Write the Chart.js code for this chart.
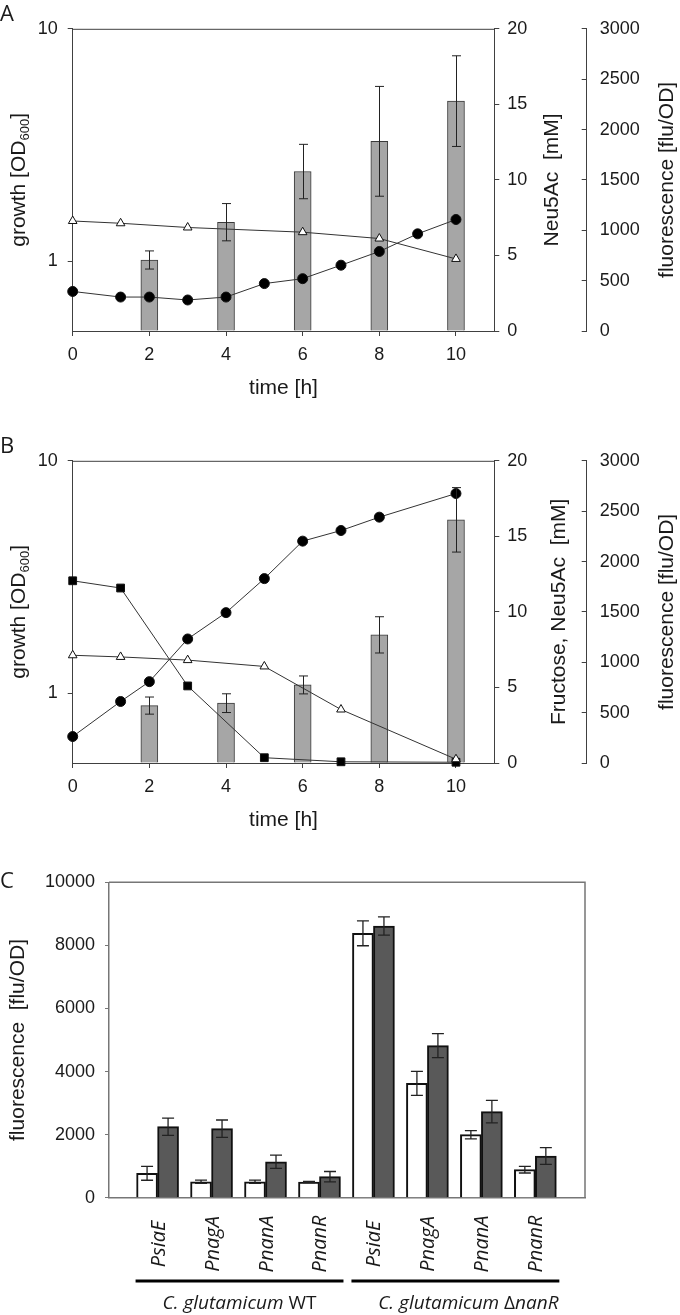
<!DOCTYPE html>
<html>
<head>
<meta charset="utf-8">
<script src="https://cdn.jsdelivr.net/npm/chart.js@4.4.1/dist/chart.umd.min.js"></script>
<style>
  body { margin: 0; background: #fff; }
  #wrap { position: relative; width: 680px; height: 1315px; }
  canvas { position: absolute; left: 0; }
</style>
</head>
<body>
<div id="wrap">
  <canvas id="chartA" width="680" height="410" style="top:0px"></canvas>
  <canvas id="chartB" width="680" height="410" style="top:432px"></canvas>
  <canvas id="chartC" width="680" height="475" style="top:840px"></canvas>
</div>
<script>
// ---- data: panel A (Neu5Ac only) ----
const timeGrowthA = [0, 1.25, 2, 3, 4, 5, 6, 7, 8, 9, 10];
const growthA = [0.74, 0.70, 0.70, 0.68, 0.70, 0.80, 0.84, 0.96, 1.10, 1.31, 1.51];
const timeNeuA = [0, 1.25, 3, 6, 8, 10];
const neuA = [7.28, 7.13, 6.85, 6.54, 6.12, 4.77];
const barTimes = [2, 4, 6, 8, 10];
const fluorA = [705, 1080, 1583, 1883, 2282];
const fluorErrA = [90, 185, 270, 545, 450];

// ---- data: panel B (fructose + Neu5Ac) ----
const timeGrowthB = [0, 1.25, 2, 3, 4, 5, 6, 7, 8, 10];
const growthB = [0.65, 0.92, 1.12, 1.71, 2.22, 3.11, 4.51, 5.01, 5.72, 7.23];
const timeNeuB = [0, 1.25, 3, 5, 7, 10];
const neuB = [7.13, 7.02, 6.81, 6.39, 3.54, 0.25];
const timeFruB = [0, 1.25, 3, 5, 7, 10];
const fruB = [12.06, 11.58, 5.10, 0.35, 0.08, 0.05];
const fluorB = [570, 594, 775, 1272, 2414];
const fluorErrB = [85, 93, 89, 180, 320];

// ---- data: panel C ----
const promoters = ['PsiaE', 'PnagA', 'PnanA', 'PnanR', 'PsiaE', 'PnagA', 'PnanA', 'PnanR'];
const strains = ['C. glutamicum WT', 'C. glutamicum ΔnanR'];
const fluorWhite = [774, 507, 507, 497, 8383, 3627, 1998, 888];
const errWhite = [220, 50, 50, 20, 395, 380, 130, 105];
const fluorDark = [2251, 2188, 1141, 666, 8614, 4820, 2728, 1322];
const errDark = [275, 275, 210, 165, 290, 380, 355, 265];

// ---- tick labels ----
const timeTicks = [0, 2, 4, 6, 8, 10];
const growthTicks = [1, 10];
const mMTicks = [0, 5, 10, 15, 20];
const fluorTicks = [0, 500, 1000, 1500, 2000, 2500, 3000];
const fluorTicksC = [0, 2000, 4000, 6000, 8000, 10000];

const frame = '#404040';
const textCol = '#1a1a1a';
const tickFont = { family: 'Liberation Sans', size: 18 };
const titleFont = '21px "Liberation Sans"';
const plain = v => String(v);

function drawParts(ctx, x, y, rot, parts) {
  ctx.save();
  ctx.translate(x, y);
  ctx.rotate(rot);
  let total = 0;
  parts.forEach(p => { ctx.font = p.font; p.w = ctx.measureText(p.text).width; total += p.w; });
  let px = -total / 2;
  ctx.textAlign = 'left';
  ctx.textBaseline = 'alphabetic';
  ctx.fillStyle = textCol;
  parts.forEach(p => { ctx.font = p.font; ctx.fillText(p.text, px, p.dy || 0); px += p.w; });
  ctx.restore();
}

function setTicks(list) {
  return s => { s.ticks = list.map(v => ({ value: v })); };
}

function timeChart(id, cfg) {
  const datasets = [{
    type: 'bar',
    label: 'fluorescence',
    data: barTimes.map((t, i) => ({ x: t, y: cfg.fluor[i] })),
    yAxisID: 'yF',
    backgroundColor: '#a6a6a6',
    borderColor: '#3a3a3a',
    borderWidth: 1,
    barThickness: 17,
    order: 5
  }];
  cfg.lines.forEach(l => {
    datasets.push({
      type: 'line',
      label: l.label,
      data: l.x.map((t, i) => ({ x: t, y: l.y[i] })),
      yAxisID: l.axis,
      borderColor: '#333',
      borderWidth: 1,
      pointStyle: l.style,
      pointRadius: l.radius,
      pointBackgroundColor: l.fill,
      pointBorderColor: '#111',
      pointBorderWidth: 1,
      tension: 0,
      clip: false,
      order: 1
    });
  });

  const decor = {
    id: 'decor',
    afterDatasetsDraw(chart) {
      const { ctx, chartArea: a, scales } = chart;
      ctx.save();
      ctx.strokeStyle = frame;
      ctx.lineWidth = 1;
      ctx.beginPath();
      ctx.moveTo(a.left, a.top + 0.5);
      ctx.lineTo(a.right, a.top + 0.5);
      ctx.stroke();
      // error bars on fluorescence
      ctx.strokeStyle = '#222';
      ctx.beginPath();
      barTimes.forEach((t, i) => {
        const x = Math.round(scales.x.getPixelForValue(t)) + 0.5;
        const y1 = scales.yF.getPixelForValue(cfg.fluor[i] + cfg.err[i]);
        const y2 = scales.yF.getPixelForValue(cfg.fluor[i] - cfg.err[i]);
        ctx.moveTo(x, y1); ctx.lineTo(x, y2);
        ctx.moveTo(x - 4.5, y1); ctx.lineTo(x + 4.5, y1);
        ctx.moveTo(x - 4.5, y2); ctx.lineTo(x + 4.5, y2);
      });
      ctx.stroke();
      ctx.restore();
    },
    afterDraw(chart) {
      const { ctx, chartArea: a, scales } = chart;
      const midY = (a.top + a.bottom) / 2;
      drawParts(ctx, 25, midY, -Math.PI / 2, [
        { text: 'growth [OD', font: titleFont },
        { text: '600', font: '13px "Liberation Sans"', dy: 4 },
        { text: ']', font: titleFont }
      ]);
      drawParts(ctx, (a.left + a.right) / 2, a.bottom + 63, 0, [{ text: 'time [h]', font: titleFont }]);
      drawParts(ctx, scales.yN.left + cfg.mMTitleX, midY, -Math.PI / 2, [{ text: cfg.mMTitle, font: titleFont }]);
      drawParts(ctx, scales.yF.left + 86, midY, -Math.PI / 2, [{ text: 'fluorescence [flu/OD]', font: titleFont }]);
      ctx.save();
      ctx.font = '22px "Open Sans"';
      ctx.fillStyle = textCol;
      ctx.textBaseline = 'alphabetic';
      ctx.fillText(cfg.letter, 0, 21);
      ctx.restore();
    }
  };

  const axisGrid = { drawOnChartArea: false, drawTicks: true, tickLength: 5, color: frame, offset: false };
  return new Chart(document.getElementById(id), {
    type: 'bar',
    data: { datasets },
    options: {
      responsive: false,
      animation: false,
      layout: { padding: { top: 15, left: 0, right: 0, bottom: 0 } },
      plugins: { legend: { display: false }, tooltip: { enabled: false } },
      scales: {
        x: {
          type: 'linear', position: 'bottom', min: 0, max: 11, offset: false,
          afterBuildTicks: setTicks(timeTicks),
          afterFit: s => { s.height = 79; },
          grid: axisGrid,
          border: { color: frame, width: 1 },
          ticks: { font: tickFont, color: textCol, padding: 8, maxRotation: 0, autoSkip: false, callback: plain }
        },
        yG: {
          type: 'logarithmic', position: 'left', min: 0.5, max: 10,
          afterBuildTicks: setTicks(growthTicks),
          afterFit: s => { s.width = 72.7; },
          grid: axisGrid,
          border: { color: frame, width: 1 },
          ticks: { font: tickFont, color: textCol, padding: 10, callback: plain }
        },
        yN: {
          type: 'linear', position: 'right', min: 0, max: 20,
          afterBuildTicks: setTicks(mMTicks),
          afterFit: s => { s.width = 92.4; },
          grid: axisGrid,
          border: { color: frame, width: 1 },
          ticks: { font: tickFont, color: textCol, padding: 8, callback: plain }
        },
        yF: {
          type: 'linear', position: 'right', min: 0, max: 3000,
          afterBuildTicks: setTicks(fluorTicks),
          afterFit: s => { s.width = 93.3; },
          grid: { drawOnChartArea: false, drawTicks: true, tickLength: -5, color: frame },
          border: { color: frame, width: 1 },
          ticks: { font: tickFont, color: textCol, padding: 18, callback: plain }
        }
      }
    },
    plugins: [decor]
  });
}

timeChart('chartA', {
  letter: 'A',
  fluor: fluorA, err: fluorErrA,
  mMTitle: 'Neu5Ac  [mM]', mMTitleX: 64,
  lines: [
    { label: 'growth', x: timeGrowthA, y: growthA, axis: 'yG', style: 'circle', radius: 5, fill: '#000' },
    { label: 'Neu5Ac', x: timeNeuA, y: neuA, axis: 'yN', style: 'triangle', radius: 5, fill: '#fff' }
  ]
});

timeChart('chartB', {
  letter: 'B',
  fluor: fluorB, err: fluorErrB,
  mMTitle: 'Fructose, Neu5Ac  [mM]', mMTitleX: 71,
  lines: [
    { label: 'growth', x: timeGrowthB, y: growthB, axis: 'yG', style: 'circle', radius: 5, fill: '#000' },
    { label: 'Neu5Ac', x: timeNeuB, y: neuB, axis: 'yN', style: 'triangle', radius: 5, fill: '#fff' },
    { label: 'fructose', x: timeFruB, y: fruB, axis: 'yN', style: 'rect', radius: 5.5, fill: '#000' }
  ]
});

// ---- panel C ----
const frameC = '#767676';
const decorC = {
  id: 'decorC',
  afterDatasetsDraw(chart) {
    const { ctx, chartArea: a, scales } = chart;
    ctx.save();
    ctx.strokeStyle = frameC;
    ctx.lineWidth = 1.5;
    ctx.beginPath();
    ctx.moveTo(a.left, a.top);
    ctx.lineTo(a.right, a.top);
    ctx.lineTo(a.right, a.bottom);
    ctx.stroke();
    // error bars
    ctx.strokeStyle = '#222';
    ctx.lineWidth = 1.3;
    const sets = [[fluorWhite, errWhite], [fluorDark, errDark]];
    ctx.beginPath();
    sets.forEach(([vals, errs], d) => {
      chart.getDatasetMeta(d).data.forEach((bar, i) => {
        const x = bar.x;
        const y1 = scales.y.getPixelForValue(vals[i] + errs[i]);
        const y2 = scales.y.getPixelForValue(vals[i] - errs[i]);
        ctx.moveTo(x, y1); ctx.lineTo(x, y2);
        ctx.moveTo(x - 6, y1); ctx.lineTo(x + 6, y1);
        ctx.moveTo(x - 6, y2); ctx.lineTo(x + 6, y2);
      });
    });
    ctx.stroke();
    ctx.restore();
  },
  afterDraw(chart) {
    const { ctx, chartArea: a, scales } = chart;
    const xs = scales.x;
    // promoter labels
    promoters.forEach((p, i) => {
      drawParts(ctx, xs.getPixelForValue(i) + 7, 404, -Math.PI / 2, [{ text: p, font: 'italic 20px "Open Sans"' }]);
    });
    // strain bars and names
    const groups = [[0, 3], [4, 7]];
    const shift = [0, 13];
    ctx.save();
    ctx.strokeStyle = '#000';
    ctx.lineWidth = 3;
    groups.forEach(([g0, g1], k) => {
      const x0 = xs.getPixelForValue(g0) - 22;
      const x1 = xs.getPixelForValue(g1) + 24;
      ctx.beginPath();
      ctx.moveTo(x0, 441); ctx.lineTo(x1, 441);
      ctx.stroke();
      const name = strains[k];
      const parts = k === 0
        ? [{ text: 'C. glutamicum', font: 'italic 19px "Open Sans"' }, { text: ' WT', font: '19px "Open Sans"' }]
        : [{ text: 'C. glutamicum ', font: 'italic 19px "Open Sans"' }, { text: name.slice(14, 15), font: '19px "Open Sans"' }, { text: name.slice(15), font: 'italic 19px "Open Sans"' }];
      drawParts(ctx, (x0 + x1) / 2 + shift[k], 469, 0, parts);
    });
    ctx.restore();
    drawParts(ctx, 24, (a.top + a.bottom) / 2, -Math.PI / 2, [{ text: 'fluorescence  [flu/OD]', font: titleFont }]);
    ctx.save();
    ctx.font = '22px "Open Sans"';
    ctx.fillStyle = textCol;
    ctx.fillText('C', 0, 48);
    ctx.restore();
  }
};

new Chart(document.getElementById('chartC'), {
  type: 'bar',
  data: {
    datasets: [
      {
        label: 'white',
        data: fluorWhite.map((v, i) => ({ x: i, y: v })),
        backgroundColor: '#ffffff', borderColor: '#111', borderWidth: 2, barThickness: 21
      },
      {
        label: 'dark',
        data: fluorDark.map((v, i) => ({ x: i, y: v })),
        backgroundColor: '#595959', borderColor: '#111', borderWidth: 2, barThickness: 21
      }
    ]
  },
  options: {
    responsive: false,
    animation: false,
    layout: { padding: { top: 42.3, left: 0, right: 95, bottom: 0 } },
    plugins: { legend: { display: false }, tooltip: { enabled: false } },
    scales: {
      x: {
        type: 'linear', min: -0.9, max: 7.92, offset: false,
        afterFit: s => { s.height = 117.3; },
        grid: { display: false, offset: false },
        border: { color: frameC, width: 1.5 },
        ticks: { display: false }
      },
      y: {
        min: 0, max: 10000,
        afterBuildTicks: setTicks(fluorTicksC),
        afterFit: s => { s.width = 109; },
        grid: { drawOnChartArea: false, drawTicks: true, tickLength: 4, color: frameC },
        border: { color: frameC, width: 1.5 },
        ticks: { font: tickFont, color: textCol, padding: 10, callback: plain }
      }
    }
  },
  plugins: [decorC]
});
</script>
</body>
</html>
